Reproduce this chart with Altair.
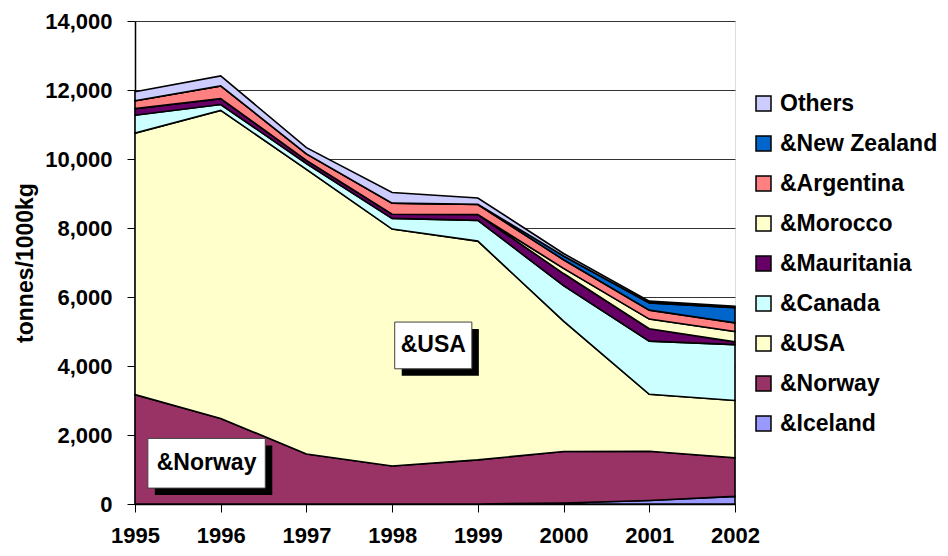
import altair as alt
import pandas as pd

years = [1995, 1996, 1997, 1998, 1999, 2000, 2001, 2002]

series = ["&Iceland", "&Norway", "&USA", "&Canada", "&Mauritania",
          "&Morocco", "&Argentina", "&New Zealand", "Others"]

iceland     = [0, 0, 0, 0, 0, 30, 100, 220]
norway      = [3170, 2480, 1450, 1100, 1280, 1490, 1430, 1120]
usa         = [7580, 8930, 8250, 6870, 6340, 3780, 1650, 1660]
canada      = [520, 170, 170, 310, 600, 1030, 1540, 1620]
mauritania  = [190, 170, 90, 120, 170, 350, 360, 80]
morocco     = [0, 0, 0, 0, 0, 150, 280, 300]
argentina   = [230, 370, 190, 320, 290, 250, 260, 250]
new_zealand = [0, 0, 0, 0, 10, 110, 210, 440]
others      = [260, 290, 180, 310, 180, 70, 50, 40]

colors = ["#9999FF", "#993366", "#FFFFCC", "#CCFFFF", "#660066",
          "#FFFFCC", "#FF8080", "#0066CC", "#CCCCFF"]

values = [iceland, norway, usa, canada, mauritania, morocco,
          argentina, new_zealand, others]

rows = []
for i, (name, vals) in enumerate(zip(series, values)):
    for yr, v in zip(years, vals):
        rows.append({"year": yr, "tonnes": v, "series": name, "order": i})
df = pd.DataFrame(rows)

legend_domain = list(reversed(series))
legend_range = list(reversed(colors))

# annotation boxes (data-space placement)
ann_labels = ["&USA", "&Norway"]
ann_x = [1998.03, 1995.15]
ann_x2 = [1998.93, 1996.52]
ann_y = [5274, 1902]
ann_y2 = [3919, 461]
ann = pd.DataFrame({
    "label": ann_labels, "x": ann_x, "x2": ann_x2, "y": ann_y, "y2": ann_y2,
    "tx": [(a + b) / 2 for a, b in zip(ann_x, ann_x2)],
    "ty": [(a + b) / 2 for a, b in zip(ann_y, ann_y2)],
})

FONT = "Liberation Sans"

xscale = alt.Scale(domain=[1995, 2002], nice=False, zero=False)
yscale = alt.Scale(domain=[0, 14000], nice=False)

area = alt.Chart(df).mark_area(
    stroke="black", strokeWidth=1.6, opacity=1, fillOpacity=1, strokeJoin="miter"
).encode(
    x=alt.X("year:Q", scale=xscale,
            axis=alt.Axis(values=years, format="d", title=None, grid=False,
                          labelFont=FONT, labelFontSize=22, labelFontWeight="bold",
                          labelColor="black", tickColor="black", tickSize=8,
                          tickWidth=1, domainColor="black", domainWidth=1.5,
                          labelPadding=13, labelFlush=False)),
    y=alt.Y("tonnes:Q", stack="zero", scale=yscale,
            axis=alt.Axis(values=list(range(0, 14001, 2000)), format=",d",
                          title="tonnes/1000kg", grid=True, gridColor="#333333",
                          gridWidth=1, labelFont=FONT, labelFontSize=22,
                          labelFontWeight="bold", labelColor="black",
                          tickColor="black", tickSize=8, tickWidth=1,
                          domainColor="black", domainWidth=1.5, labelPadding=15,
                          titleFont=FONT, titleFontSize=23, titleFontWeight="bold",
                          titleColor="black", titlePadding=7)),
    color=alt.Color("series:N",
                    scale=alt.Scale(domain=legend_domain, range=legend_range),
                    legend=alt.Legend(title=None, orient="none", legendX=617,
                                      legendY=71, symbolType="square",
                                      symbolSize=225, symbolStrokeColor="black",
                                      symbolStrokeWidth=1.5, symbolOpacity=1,
                                      labelFont=FONT, labelFontSize=23,
                                      labelFontWeight="bold", labelColor="black",
                                      labelOffset=5, rowPadding=16,
                                      labelLimit=300)),
    order=alt.Order("order:Q", sort="ascending"),
)

shadow = alt.Chart(ann).mark_rect(
    fill="black", xOffset=7, x2Offset=7, yOffset=7, y2Offset=7
).encode(
    x=alt.X("x:Q", scale=xscale), x2="x2:Q",
    y=alt.Y("y:Q", scale=yscale), y2="y2:Q",
)

box = alt.Chart(ann).mark_rect(
    fill="white", stroke="#404040", strokeWidth=1
).encode(
    x=alt.X("x:Q", scale=xscale), x2="x2:Q",
    y=alt.Y("y:Q", scale=yscale), y2="y2:Q",
)

text = alt.Chart(ann).mark_text(
    font=FONT, fontSize=23, fontWeight="bold", color="black",
    align="center", baseline="middle"
).encode(
    x=alt.X("tx:Q", scale=xscale),
    y=alt.Y("ty:Q", scale=yscale),
    text="label:N",
)

chart = alt.layer(area, shadow, box, text).properties(
    width=600, height=483,
    padding={"left": 127, "top": 13, "right": 205, "bottom": 44},
    autosize=alt.AutoSizeParams(type="none"),
).configure_view(
    stroke="#808080", strokeWidth=1
).configure(background="white")

chart.save("out.html", embed_options={"renderer": "svg", "actions": False})
